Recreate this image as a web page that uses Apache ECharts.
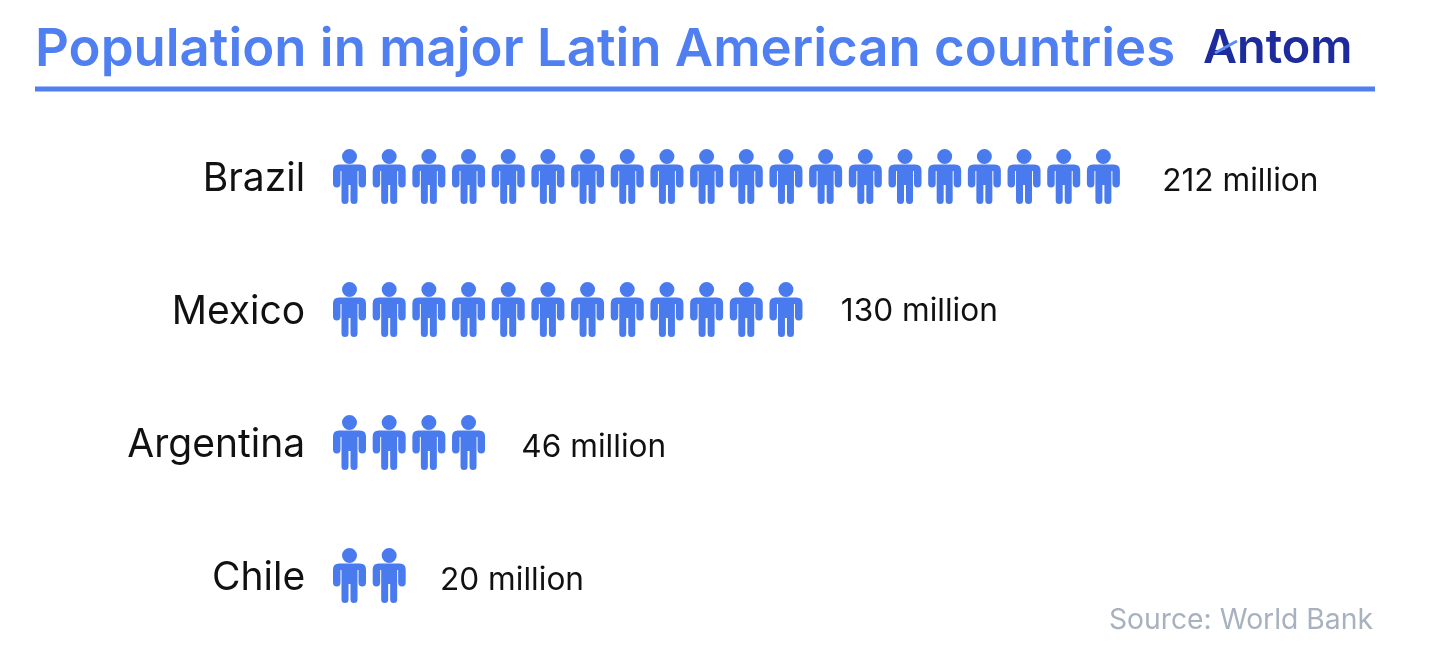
<!DOCTYPE html>
<html><head><meta charset="utf-8">
<style>html,body{margin:0;padding:0;background:#fff}#c{width:1450px;height:660px}</style>
<script src="https://cdn.jsdelivr.net/npm/echarts@6/dist/echarts.min.js"></script>
</head><body><div id="c"></div>
<script>
const countries = ['Brazil','Mexico','Argentina','Chile'];
const iconCounts = [20,12,4,2];
const populationLabels = ['212 million','130 million','46 million','20 million'];
const labelGaps = [39,35,33,31];
const titleText = 'Population in major Latin American countries';
const sourceText = 'Source: World Bank';
const logoText = 'Antom';
const person = 'path://M16.5 0a7.5 7.5 0 1 0 .01 0ZM6 15.5H27Q33 15.5 33 21.5V34.5Q33 38.5 29.25 38.5Q25.5 38.5 25.5 34.5V22H24.5V51.5Q24.5 55 21 55Q17.5 55 17.5 51.5V36H15.5V51.5Q15.5 55 12 55Q8.5 55 8.5 51.5V22H7.5V34.5Q7.5 38.5 3.75 38.5Q0 38.5 0 34.5V21.5Q0 15.5 6 15.5Z';
const font = 'Inter';
const chart = echarts.init(document.getElementById('c'), null, {renderer:'canvas'});
chart.setOption({
  backgroundColor:'#ffffff',
  animation:false,
  title:[
    {text:titleText,left:30,top:19,textStyle:{fontFamily:font,fontSize:52.7,fontWeight:600,color:'#4f7ff0'}},
    {text:logoText,left:1198,top:20,textStyle:{fontFamily:font,fontSize:46.8,fontWeight:600,color:'#1d2b9c'}},
    {text:sourceText,right:72,top:601,textStyle:{fontFamily:font,fontSize:28.3,fontWeight:400,color:'#a8b2bf'}}
  ],
  graphic:[
    {type:'line',shape:{x1:35,y1:89,x2:1375,y2:89},style:{stroke:'#4f7ff0',lineWidth:5}},
    {type:'line',z:10,shape:{x1:1215,y1:53,x2:1237,y2:41},style:{stroke:'#5b8bf2',lineWidth:3}}
  ],
  grid:{left:329.66,top:110,width:1111,height:532},
  xAxis:{type:'value',min:0,max:28,show:false},
  yAxis:{type:'category',inverse:true,data:countries,
    axisLine:{show:false},axisTick:{show:false},splitLine:{show:false},
    axisLabel:{margin:24.5,formatter:'{a|{value}}',
      rich:{a:{fontFamily:font,fontSize:39,color:'#111111',fontWeight:400,padding:[6,0,0,0]}}}},
  series:[{
    type:'pictorialBar',
    symbol:person,
    symbolSize:[33,55],
    symbolPosition:'start',
    symbolMargin:'3.34!',
    barWidth:55,
    itemStyle:{color:'#4a7bee'},
    data:iconCounts.map((v,i)=>({
      value:v,
      symbolRepeat:v,
      symbolBoundingData:v,
      label:{show:true,position:'right',distance:labelGaps[i],offset:[0,i===1?2:5],formatter:populationLabels[i],
        fontFamily:font,fontSize:31.6,color:'#111111'}
    }))
  }]
});
</script></body></html>
